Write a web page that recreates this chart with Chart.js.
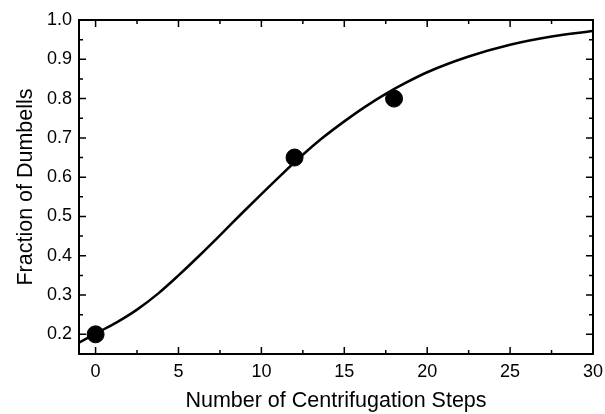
<!DOCTYPE html>
<html>
<head>
<meta charset="utf-8">
<script src="https://cdn.jsdelivr.net/npm/chart.js@4"></script>
<style>
  html, body { margin: 0; padding: 0; background: white; }
  #wrap { width: 605px; height: 414px; }
</style>
</head>
<body>
<div id="wrap"><canvas id="fracChart" width="605" height="414"></canvas></div>
<script>
// measured points
const steps = [0, 12, 18];
const fraction = [0.2, 0.65, 0.8];

// fitted curve
const fitX = [-1, 0, 1.25, 2.5, 3.75, 5, 6.25, 7.5, 8.75, 10, 11.25, 12.5, 13.75, 15, 16.25, 17.5, 18.75, 20, 22.5, 25, 27.5, 30];
const fitY = [0.179, 0.202, 0.230, 0.263, 0.303, 0.350, 0.400, 0.452, 0.505, 0.557, 0.608, 0.657, 0.702, 0.742, 0.779, 0.812, 0.841, 0.867, 0.907, 0.937, 0.958, 0.972];

const xTicks = [0, 5, 10, 15, 20, 25, 30];
const xMinor = [2.5, 7.5, 12.5, 17.5, 22.5, 27.5];
const yTicks = [0.2, 0.3, 0.4, 0.5, 0.6, 0.7, 0.8, 0.9, 1.0];
const yMinor = [0.25, 0.35, 0.45, 0.55, 0.65, 0.75, 0.85, 0.95];

const FONT = "'Liberation Sans', Arial, sans-serif";

// frame + inward tick marks on all four sides
const frameTicks = {
  id: 'frameTicks',
  afterDraw(chart) {
    const {ctx, chartArea: a, scales: {x, y}} = chart;
    ctx.save();
    ctx.strokeStyle = '#000';
    ctx.lineWidth = 1.5;
    ctx.beginPath();
    const tick = (vals, len) => {
      vals.forEach(v => {
        const px = x.getPixelForValue(v);
        ctx.moveTo(px, a.bottom); ctx.lineTo(px, a.bottom - len);
        ctx.moveTo(px, a.top); ctx.lineTo(px, a.top + len);
      });
    };
    const tickY = (vals, len) => {
      vals.forEach(v => {
        const py = y.getPixelForValue(v);
        ctx.moveTo(a.left, py); ctx.lineTo(a.left + len, py);
        ctx.moveTo(a.right, py); ctx.lineTo(a.right - len, py);
      });
    };
    tick(xTicks, 7); tick(xMinor, 4);
    tickY(yTicks, 7); tickY(yMinor, 4);
    ctx.stroke();
    ctx.lineWidth = 2;
    ctx.strokeRect(a.left, a.top, a.right - a.left, a.bottom - a.top);
    ctx.restore();
  }
};

new Chart(document.getElementById('fracChart'), {
  type: 'scatter',
  data: {
    datasets: [
      {
        label: 'fit',
        data: fitX.map((v, i) => ({x: v, y: fitY[i]})),
        showLine: true,
        borderColor: '#000',
        borderWidth: 2.5,
        pointRadius: 0,
        cubicInterpolationMode: 'monotone',
        order: 2
      },
      {
        label: 'data',
        data: steps.map((v, i) => ({x: v, y: fraction[i]})),
        backgroundColor: '#000',
        borderColor: '#000',
        pointRadius: 8.5,
        order: 1
      }
    ]
  },
  options: {
    responsive: false,
    animation: false,
    layout: { padding: { top: 20, right: 12, left: 0, bottom: 0 } },
    plugins: { legend: { display: false }, tooltip: { enabled: false } },
    scales: {
      x: {
        type: 'linear',
        min: -1,
        max: 30,
        afterBuildTicks: s => { s.ticks = xTicks.map(v => ({value: v})); },
        afterFit: s => { s.height = 60; s.paddingLeft = 0; s.paddingRight = 0; },
        grid: { display: false, drawTicks: false },
        border: { display: false },
        ticks: { color: '#000', padding: 7, font: { family: FONT, size: 18 }, maxRotation: 0 },
        title: { display: true, text: 'Number of Centrifugation Steps', color: '#000',
                 font: { family: FONT, size: 21.5 }, padding: { top: 0, bottom: 0 } }
      },
      y: {
        type: 'linear',
        min: 0.15,
        max: 1.0,
        afterBuildTicks: s => { s.ticks = yTicks.map(v => ({value: v})); },
        afterFit: s => { s.width = 79; s.paddingTop = 0; s.paddingBottom = 0; },
        grid: { display: false, drawTicks: false },
        border: { display: false },
        ticks: { color: '#000', padding: 7, font: { family: FONT, size: 18 },
                 callback: v => v.toFixed(1) },
        title: { display: true, text: 'Fraction of Dumbells', color: '#000',
                 font: { family: FONT, size: 21.5 }, padding: { top: 13, bottom: 0 } }
      }
    }
  },
  plugins: [frameTicks, {
    id: 'customCanvasBackgroundColor',
    beforeDraw(chart) {
      const {ctx} = chart;
      ctx.save();
      ctx.globalCompositeOperation = 'destination-over';
      ctx.fillStyle = 'white';
      ctx.fillRect(0, 0, chart.width, chart.height);
      ctx.restore();
    }
  }]
});
</script>
</body>
</html>
